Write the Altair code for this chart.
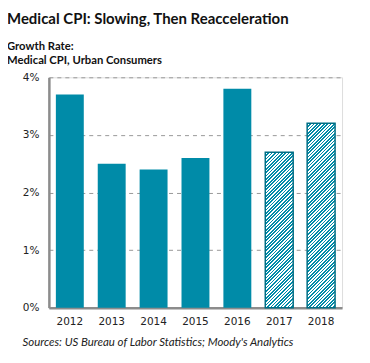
import altair as alt
import pandas as pd

years = ["2012", "2013", "2014", "2015", "2016", "2017", "2018"]
growth = [3.7, 2.5, 2.4, 2.6, 3.8, 2.7, 3.2]
forecast = [False, False, False, False, False, True, True]

title_text = "Medical CPI: Slowing, Then Reacceleration"
subtitle_lines = ["Growth Rate:", "Medical CPI, Urban Consumers"]
source_text = "Sources: US Bureau of Labor Statistics; Moody's Analytics"

df = pd.DataFrame({"year": years, "growth": [g / 100 for g in growth], "forecast": forecast})

W, H = 294, 231
YMAX = 0.04
TEAL = "#008BA8"
DARK = "#006E85"

x_enc = alt.X(
    "year:N",
    sort=years,
    scale=alt.Scale(paddingInner=1 / 3, paddingOuter=1 / 6),
    axis=alt.Axis(
        title=source_text,
        titleFontStyle="italic",
        titleFontWeight="normal",
        titleFont="Lato",
        titleFontSize=11.5,
        titleColor="#222",
        titleAnchor="start",
        titleAlign="left",
        titleX=-27,
        titleY=35,
        titleBaseline="middle",
        labelAngle=0,
        labelFont="DejaVu Sans",
        labelFontSize=10.5,
        labelColor="#222",
        labelPadding=9,
        ticks=False,
        domainColor="#8c8c8c",
        domainWidth=2.5,
        grid=False,
    ),
)
y_enc = alt.Y(
    "growth:Q",
    scale=alt.Scale(domain=[0, YMAX]),
    axis=alt.Axis(
        title=None,
        format=".0%",
        values=[0, 0.01, 0.02, 0.03, 0.04],
        labelFont="DejaVu Sans",
        labelFontSize=10.5,
        labelColor="#222",
        labelPadding=10,
        ticks=False,
        domainColor="#8c8c8c",
        domainWidth=2.5,
        grid=True,
        gridDash=[4, 4],
        gridColor="#999",
        gridWidth=1,
    ),
)


def hatch_fill(value, bar_w=28.0, period=3.4):
    h = value / YMAX * H
    w = bar_w
    c = (w + h) / (w * w + h * h)
    n = max(1, round((w + h) / period))
    stops = []
    for k in range(n):
        a = k / n
        m = (k + 0.5) / n
        b = (k + 1) / n
        stops += [
            {"offset": a, "color": TEAL},
            {"offset": m, "color": TEAL},
            {"offset": m, "color": "#ffffff"},
            {"offset": b, "color": "#ffffff"},
        ]
    return {"gradient": "linear", "x1": 0, "y1": 0, "x2": c * w, "y2": c * h, "stops": stops}


base = alt.Chart(df)
layers = [
    base.transform_filter(alt.datum.forecast == False)
    .mark_bar(color=TEAL)
    .encode(x=x_enc, y=y_enc)
]
for yr, val, fc in zip(years, growth, forecast):
    if fc:
        layers.append(
            base.transform_filter(alt.datum.year == yr)
            .mark_bar(fill=hatch_fill(val / 100), stroke=DARK, strokeWidth=1.5)
            .encode(x=x_enc, y=y_enc)
        )

chart = (
    alt.layer(*layers)
    .properties(
        width=W,
        height=H,
        autosize=alt.AutoSizeParams(type="none"),
        padding={"left": 41, "top": 69, "right": 20, "bottom": 45},
        title=alt.TitleParams(
            text=title_text,
            subtitle=subtitle_lines,
            anchor="start",
            frame="group",
            dx=-42,
            offset=6,
            font="Lato",
            fontSize=15,
            fontWeight="bold",
            color="#111",
            subtitleFont="Lato",
            subtitleFontSize=11.3,
            subtitleFontWeight="bold",
            subtitleColor="#111",
            subtitleLineHeight=14,
            subtitlePadding=14,
        ),
    )
    .configure_view(stroke=None)
    .configure(background="white")
)

chart.save("out.html", embed_options={"renderer": "svg", "actions": False})
